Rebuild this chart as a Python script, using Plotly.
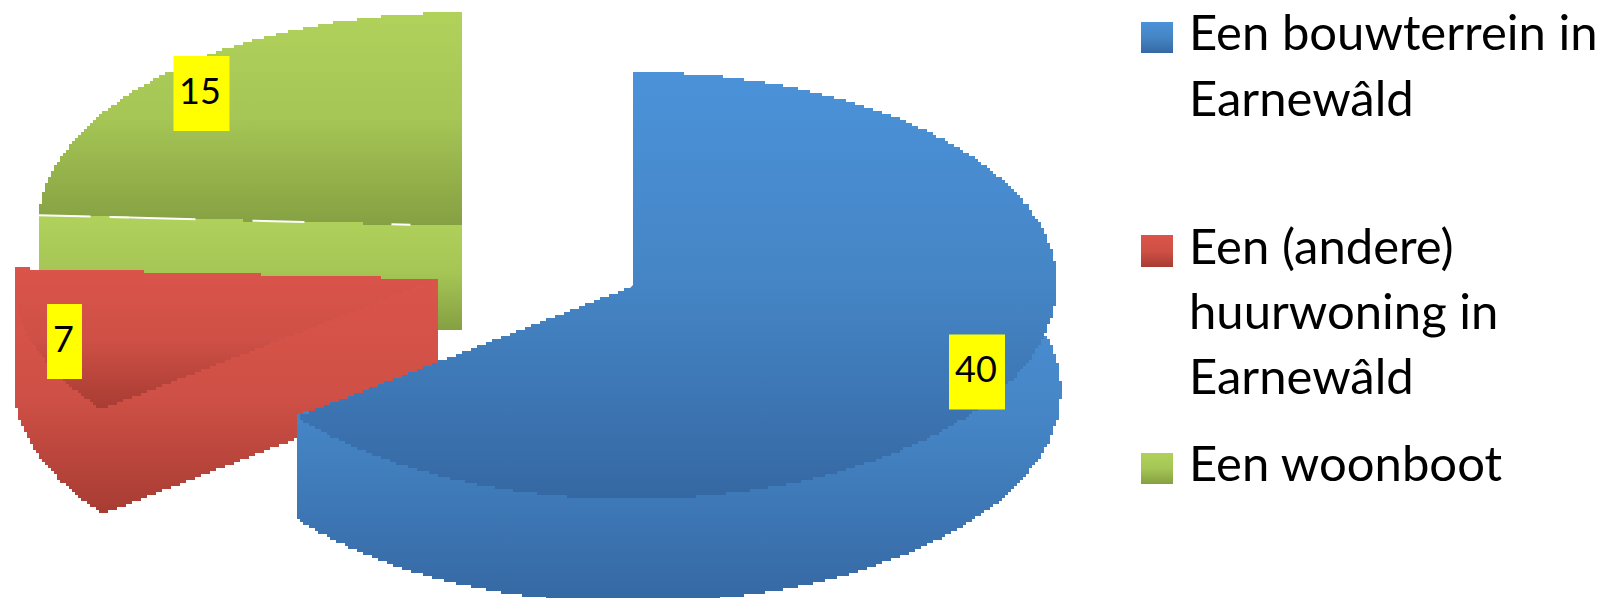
import numpy as np
import plotly.graph_objects as go

categories = ["Een bouwterrein in Earnewâld", "Een (andere) huurwoning in Earnewâld", "Een woonboot"]
values = [40, 7, 15]
legend_lines = [["Een bouwterrein in", "Earnewâld"], ["Een (andere)", "huurwoning in", "Earnewâld"], ["Een woonboot"]]

# ---- styling / layout (pixel-based plot space) ----
W, H = 1606, 598
RX, RY, DEPTH = 424, 213.5, 104
CENTERS = [(633, 285.5), (437.5, 279), (462, 226)]
TOP_GRAD = [("#4B92D9", "#4585C5", "#3568A3"), ("#DA544A", "#CF5046", "#A73C33"), ("#B0D25B", "#A5C555", "#85A042")]
SWATCH_Y = [(22, 53), (235, 267), (453, 484)]
LINE_BASE = [[50, 115], [263, 328, 393], [480]]
LABEL_BOX = [(977, 372, 56), (64.5, 341.5, 35), (201.5, 93.5, 56)]
FONT = "Lato, Carlito, Calibri, sans-serif"
STEP = 3

total = sum(values)
edges = np.cumsum([0] + values) / total * 2 * np.pi


def pt(center, t, rx=RX, ry=RY):
    return center[0] + rx * np.sin(t), center[1] - ry * np.cos(t)


def stair(xs, ys):
    """Pixelate a closed outline into small steps, as the 3D renderer of the original does."""
    px, py = [], []
    n = len(xs)
    for k in range(n):
        x0, y0, x1, y1 = xs[k], ys[k], xs[(k + 1) % n], ys[(k + 1) % n]
        m = max(2, int(max(abs(x1 - x0), abs(y1 - y0)) / STEP) + 1)
        for s in np.linspace(0, 1, m, endpoint=False):
            qx = round((x0 + (x1 - x0) * s) / STEP) * STEP
            qy = round((y0 + (y1 - y0) * s) / STEP) * STEP
            if px and (qx != px[-1] and qy != py[-1]):
                px.append(qx)
                py.append(py[-1])
            if not px or qx != px[-1] or qy != py[-1]:
                px.append(qx)
                py.append(qy)
    return px, py


def poly(xs, ys, colors, start=None, stop=None, pixel=True):
    xs, ys = [float(v) for v in xs], [float(v) for v in ys]
    g0 = min(ys) if start is None else start
    g1 = max(ys) if stop is None else stop
    if pixel:
        xs, ys = stair(xs, ys)
    fig.add_trace(go.Scatter(
        x=xs + xs[:1], y=ys + ys[:1], mode="lines", line=dict(width=0), fill="toself",
        fillgradient=dict(type="vertical", start=g0, stop=g1,
                          colorscale=[[0, colors[0]], [0.5, colors[1]], [1, colors[2]]]),
        hoverinfo="skip", showlegend=False))


fig = go.Figure()

for i in [2, 1, 0]:
    c = CENTERS[i]
    t = np.linspace(edges[i], edges[i + 1], 160)
    ax, ay = pt(c, t)
    # outer wall: runs slightly under the top face so no seam shows
    if i != 2:
        wx = c[0] + (RX + (4 if i == 0 else 0) * np.maximum(np.sin(t), 0)) * np.sin(t)
        ix, iy = pt(c, t, RX - 12, RY - 12)
        poly(np.r_[ix, ax[-1], ax[-1], wx[::-1]],
             np.r_[iy, ay[-1], ay[-1] + DEPTH, (ay + DEPTH)[::-1]],
             TOP_GRAD[i], start=c[1] - (0 if i else RY * 0.2), stop=max(ay) + DEPTH)
    # radial wall
    if i == 1:
        poly([c[0], ax[0], ax[0], c[0]], [c[1], ay[0], ay[0] + DEPTH, c[1] + DEPTH], TOP_GRAD[i],
             start=c[1], stop=ay[0] + DEPTH)
    if i == 2:
        poly([c[0], ax[0], ax[0], c[0]], [c[1] - 3, ay[0] - 3, ay[0] + DEPTH, c[1] + DEPTH], TOP_GRAD[i],
             start=ay[0], stop=c[1] + DEPTH)
    # top face
    poly(np.r_[c[0], ax], np.r_[c[1], ay], TOP_GRAD[i], start=min(ay), stop=max(np.r_[c[1], ay]))
    if i == 2:
        # thin broken white seam between the top face and its wall
        fig.add_trace(go.Scatter(x=[ax[0], c[0]], y=[ay[0], c[1]], mode="lines",
                                 line=dict(color="white", width=2, dash="52px,19px,86px,57px,52px,87px,19px,200px"),
                                 hoverinfo="skip", showlegend=False))

# legend swatches and text
annotations = []
shapes = []
for i, cat in enumerate(categories):
    y0, y1 = SWATCH_Y[i]
    poly([1141, 1173, 1173, 1141], [y0, y0, y1, y1], TOP_GRAD[i], pixel=False)
    for line, base in zip(legend_lines[i], LINE_BASE[i]):
        annotations.append(dict(x=1189, y=base + 10.5, xref="x", yref="y", text=line, showarrow=False,
                                xanchor="left", yanchor="bottom", font=dict(family=FONT, size=49, color="black"),
                                borderpad=0, borderwidth=0))
# value labels
for v, (x, y, w) in zip(values, LABEL_BOX):
    shapes.append(dict(type="rect", xref="x", yref="y", x0=x - w / 2, x1=x + w / 2, y0=y - 37.5, y1=y + 37.5,
                       fillcolor="#FFFF00", line=dict(width=0), layer="above"))
    annotations.append(dict(x=x - 1.5, y=y - 4, xref="x", yref="y", text=str(v), showarrow=False,
                            font=dict(family=FONT, size=36, color="black"), borderpad=0))

fig.update_layout(
    width=W, height=H, margin=dict(l=0, r=0, t=0, b=0), paper_bgcolor="white", plot_bgcolor="white",
    xaxis=dict(range=[0, W], visible=False, fixedrange=True),
    yaxis=dict(range=[H, 0], visible=False, fixedrange=True),
    showlegend=False, annotations=annotations, shapes=shapes,
)
fig.write_html("out.html", config={"displayModeBar": False},
               post_script="document.body.style.margin='0';document.documentElement.style.overflow='hidden';")
